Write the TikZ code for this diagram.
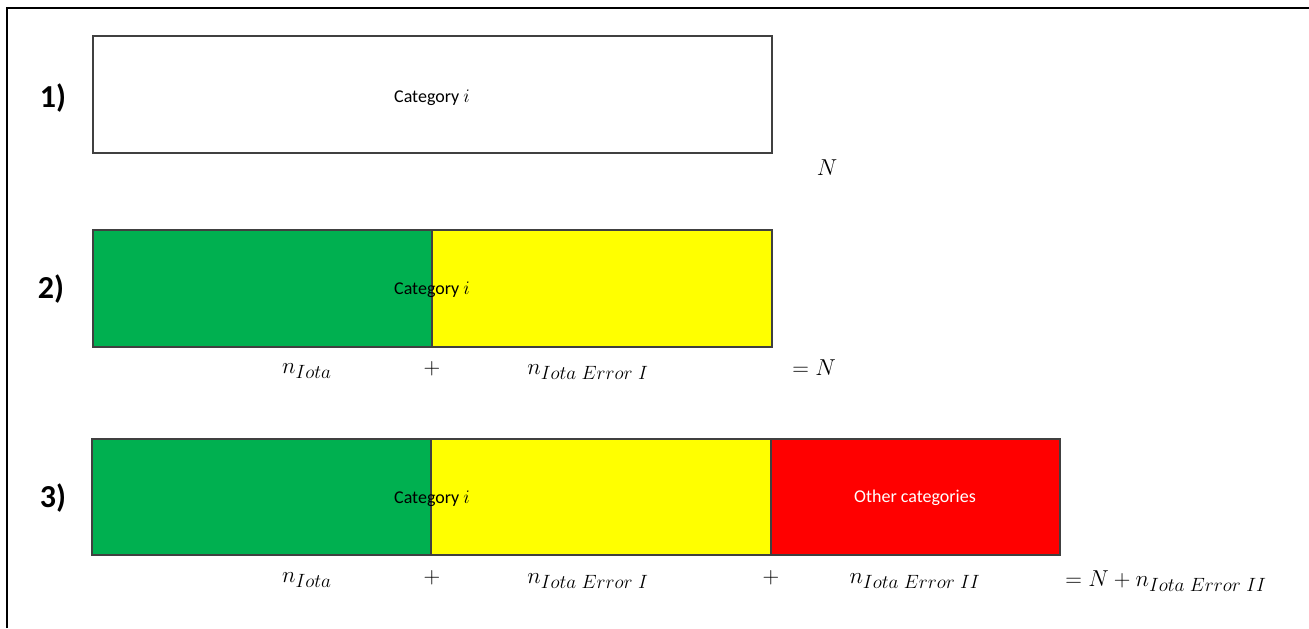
\documentclass[tikz,border=0pt]{standalone}
\usepackage{fontspec}
\setmainfont{Carlito}
\DeclareMathSizes{17.5}{17.5}{13.5}{10}
\definecolor{barGreen}{RGB}{0,176,80}
\definecolor{barYellow}{RGB}{255,255,0}
\definecolor{barRed}{RGB}{255,0,0}
\begin{document}
\begin{tikzpicture}[x=0.75pt,y=-0.75pt,
  bar/.style={draw=black!75, line width=0.8pt, anchor=north west,
    inner sep=0pt, outer sep=0pt},
  rowlabel/.style={font=\fontsize{24}{27}\selectfont\bfseries},
  cat/.style={font=\fontsize{13.5}{16}\selectfont},
  eq/.style={font=\fontsize{17.5}{21}\selectfont, inner sep=0pt}]
\useasboundingbox (0,0) rectangle (1309,628);
% frame
\draw[line width=1.6pt] (7,628) -- (7,8) -- (1309,8);

% row 1
\node[rowlabel] (l1) at (53,98) {1)};
\node[bar, fill=white, minimum width=509.25pt, minimum height=87.75pt] (b1) at (93,36) {};
\node[cat] (c1) at (432,98) {Category $i$};
\node[eq] (n1) at (827,168) {$N$};

% row 2
\node[rowlabel] (l2) at (51,289) {2)};
\node[bar, fill=barGreen, minimum width=254.25pt, minimum height=87.75pt] (g2) at (93,230) {};
\node[bar, fill=barYellow, minimum width=255pt, minimum height=87.75pt] (y2) at (432,230) {};
\node[cat] (c2) at (432,290) {Category $i$};
\node[eq] (a2) at (307,371) {$n_{Iota}$};
\node[eq] (p2) at (432,369) {$+$};
\node[eq] (e2) at (588,372) {$n_{Iota\;Error\;I}$};
\node[eq] (s2) at (814,368) {$=N$};

% row 3
\node[rowlabel] (l3) at (53,498) {3)};
\node[bar, fill=barGreen, minimum width=254.25pt, minimum height=87pt] (g3) at (92,439) {};
\node[bar, fill=barYellow, minimum width=255pt, minimum height=87pt] (y3) at (431,439) {};
\node[bar, fill=barRed, minimum width=216.75pt, minimum height=87pt] (r3) at (771,439) {};
\node[cat] (c3) at (432,499) {Category $i$};
\node[cat, text=white] (o3) at (915,498) {Other categories};
\node[eq] (a3) at (307,580) {$n_{Iota}$};
\node[eq] (p3) at (432,578) {$+$};
\node[eq] (e3) at (588,581) {$n_{Iota\;Error\;I}$};
\node[eq] (q3) at (771,578) {$+$};
\node[eq] (f3) at (915,581) {$n_{Iota\;Error\;II}$};
\node[eq] (s3) at (1166,581) {$=N+n_{Iota\;Error\;II}$};
\end{tikzpicture}
\end{document}
